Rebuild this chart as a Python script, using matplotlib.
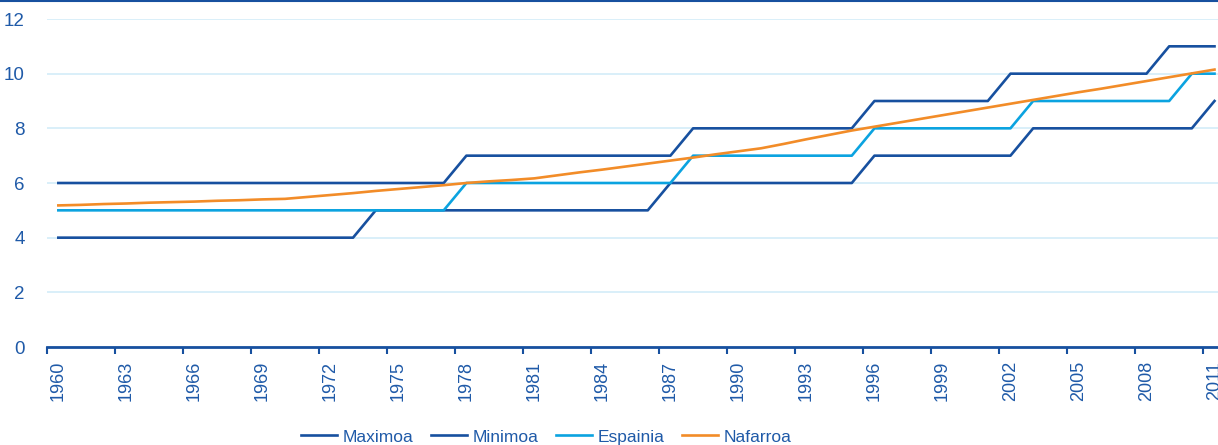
import matplotlib
matplotlib.use("Agg")
import matplotlib.pyplot as plt
from matplotlib.lines import Line2D
from matplotlib.ticker import MultipleLocator

plt.rcParams['font.family'] = ['Liberation Sans', 'DejaVu Sans']

years = list(range(1960, 2012))

maximoa = [6, 6, 6, 6, 6, 6, 6, 6, 6, 6, 6, 6, 6, 6, 6, 6, 6, 6,
           7, 7, 7, 7, 7, 7, 7, 7, 7, 7,
           8, 8, 8, 8, 8, 8, 8, 8,
           9, 9, 9, 9, 9, 9,
           10, 10, 10, 10, 10, 10, 10,
           11, 11, 11]
minimoa = [4, 4, 4, 4, 4, 4, 4, 4, 4, 4, 4, 4, 4, 4,
           5, 5, 5, 5, 5, 5, 5, 5, 5, 5, 5, 5, 5,
           6, 6, 6, 6, 6, 6, 6, 6, 6,
           7, 7, 7, 7, 7, 7, 7,
           8, 8, 8, 8, 8, 8, 8, 8,
           9]
espainia = [5, 5, 5, 5, 5, 5, 5, 5, 5, 5, 5, 5, 5, 5, 5, 5, 5, 5,
            6, 6, 6, 6, 6, 6, 6, 6, 6, 6,
            7, 7, 7, 7, 7, 7, 7, 7,
            8, 8, 8, 8, 8, 8, 8,
            9, 9, 9, 9, 9, 9, 9,
            10, 10]
nafarroa = [5.18, 5.20, 5.23, 5.25, 5.28, 5.30, 5.32, 5.35, 5.37, 5.40,
            5.42, 5.49, 5.56, 5.63, 5.71, 5.78, 5.85, 5.92, 6.00, 6.06,
            6.11, 6.17, 6.28, 6.39, 6.49, 6.60, 6.71, 6.82, 6.93, 7.05,
            7.16, 7.27, 7.43, 7.60, 7.76, 7.92, 8.06, 8.20, 8.34, 8.48,
            8.62, 8.76, 8.90, 9.04, 9.18, 9.32, 9.45, 9.59, 9.73, 9.87,
            10.01, 10.15]

dark = '#17509f'
light = '#0ba3e0'
orange = '#f28c28'
txt = '#1f5aa8'

fig = plt.figure(figsize=(12.18, 4.45), dpi=100)
ax = fig.add_axes([47 / 1218, 1 - 347 / 445, 1 - 47 / 1218, (347 - 19) / 445])

ax.plot(years, maximoa, color=dark, lw=1.9, label='Maximoa', zorder=3)
ax.plot(years, minimoa, color=dark, lw=1.9, label='Minimoa', zorder=3)
ax.plot(years, espainia, color=light, lw=1.9, label='Espainia', zorder=3)
ax.plot(years, nafarroa, color=orange, lw=1.9, label='Nafarroa', zorder=4)

ax.set_xlim(1959.5, 1959.5 + (1218 - 47) / 22.67)
ax.set_ylim(0, 12)
ax.set_yticks(range(0, 13, 2))
ax.yaxis.grid(True, color='#d3ecf8', lw=1.2)
ax.set_axisbelow(True)

ax.set_xticks(years[::3])
ax.set_xticklabels([str(y) for y in years[::3]], rotation=90)
ax.set_xticks([y - 0.5 for y in years[::3]], minor=True)
ax.tick_params(axis='x', which='major', length=0, pad=10, labelsize=13, labelcolor=txt)
ax.tick_params(axis='x', which='minor', length=5, width=1.5, color=dark, direction='out')
ax.tick_params(axis='y', length=0, pad=16, labelsize=13.5, labelcolor=txt)

for s in ['top', 'right', 'left']:
    ax.spines[s].set_visible(False)
ax.spines['bottom'].set_color(dark)
ax.spines['bottom'].set_linewidth(2)

fig.add_artist(Line2D([0, 1], [0.998, 0.998], transform=fig.transFigure,
                      color=dark, lw=1.5))

leg = fig.legend(loc='center', bbox_to_anchor=(546 / 1218, 0.018), ncol=4,
                 frameon=False, fontsize=12.5, handlelength=2.1,
                 handletextpad=0.3, columnspacing=1.0)
for t in leg.get_texts():
    t.set_color(txt)

fig.savefig('out.png', dpi=100)
